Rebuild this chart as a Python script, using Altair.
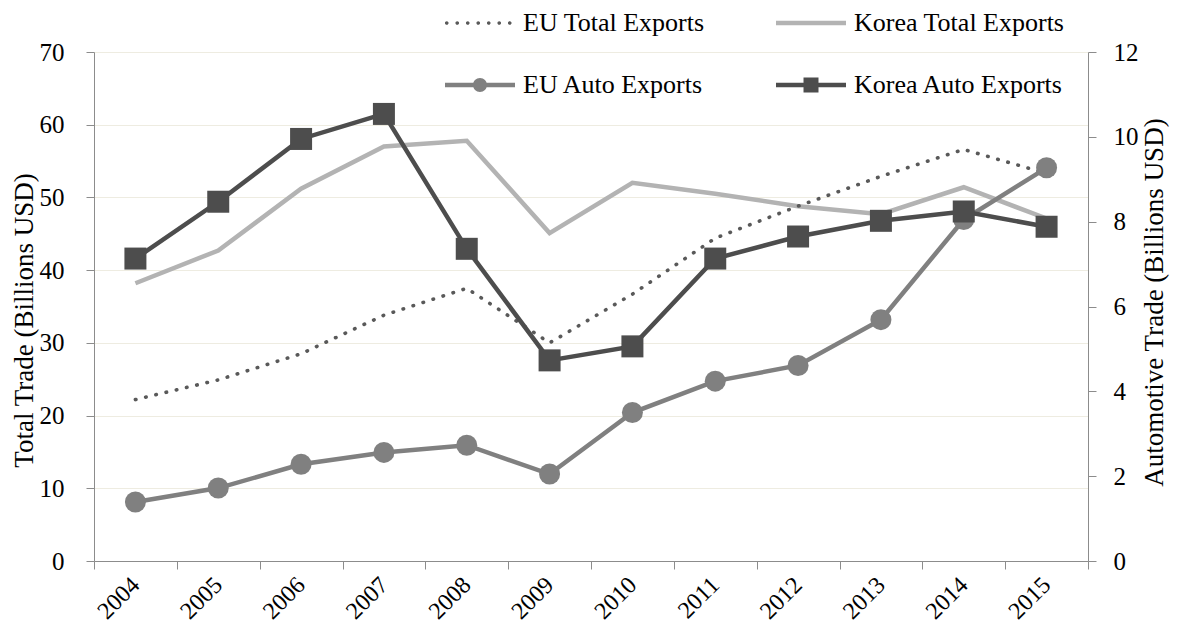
import altair as alt
import pandas as pd

# ---------------- data ----------------
years = [str(y) for y in range(2004, 2016)]
eu_total = [22.2, 24.9, 28.5, 33.8, 37.5, 30.0, 36.7, 44.4, 48.8, 52.9, 56.6, 53.3]
korea_total = [38.2, 42.7, 51.2, 57.0, 57.8, 45.1, 52.0, 50.5, 48.8, 47.7, 51.4, 47.1]
eu_auto = [1.39, 1.72, 2.28, 2.56, 2.73, 2.05, 3.50, 4.24, 4.61, 5.69, 8.05, 9.27]
korea_auto = [7.13, 8.47, 9.95, 10.54, 7.36, 4.73, 5.06, 7.13, 7.65, 8.02, 8.24, 7.88]

# legend order (the legend fills column by column)
series_names = ["EU Total Exports", "EU Auto Exports", "Korea Total Exports", "Korea Auto Exports"]
series_colors = ["#595959", "#808080", "#b3b3b3", "#4d4d4d"]
left_ticks = [0, 10, 20, 30, 40, 50, 60, 70]
right_ticks = [0, 2, 4, 6, 8, 10, 12]

EU_TOTAL, EU_AUTO, KR_TOTAL, KR_AUTO = series_names
C_EU_TOTAL, C_EU_AUTO, C_KR_TOTAL, C_KR_AUTO = series_colors

FONT = "Liberation Serif"
AXIS_GRAY = "#8c8c8c"
TICK_FS = 25
TITLE_FS = 27


def frame(name, vals):
    return pd.DataFrame({"year": years, "series": name, "value": vals})


totals = pd.concat([frame(EU_TOTAL, eu_total), frame(KR_TOTAL, korea_total)])
autos = pd.concat([frame(EU_AUTO, eu_auto), frame(KR_AUTO, korea_auto)])

# ---------------- legend symbol shapes (unit space [-1, 1]) ----------------
def circ(cx, r):
    return f"M{cx - r:.3f},0A{r},{r},0,1,1,{cx + r:.3f},0A{r},{r},0,1,1,{cx - r:.3f},0Z"


def rect(x0, x1, t):
    return f"M{x0},{-t}L{x1},{-t}L{x1},{t}L{x0},{t}Z"


t = 0.063
dotted_path = "".join(circ(-0.95 + 0.3 * k, 0.052) for k in range(7))
solid_path = rect(-1, 1, t)
rc = 0.2
circle_path = rect(-1, -rc + 0.02, t) + rect(rc - 0.02, 1, t) + circ(0, rc)
sq = 0.214
square_path = rect(-1, -sq, t) + rect(sq, 1, t) + f"M{-sq},{-sq}L{sq},{-sq}L{sq},{sq}L{-sq},{sq}Z"
legend_shapes = [dotted_path, circle_path, solid_path, square_path]

# ---------------- encodings ----------------
x_enc = alt.X(
    "year:O",
    scale=alt.Scale(type="band", paddingInner=0, paddingOuter=0),
    axis=alt.Axis(
        title=None,
        labelAngle=-45,
        labelAlign="right",
        labelBaseline="middle",
        labelPadding=12,
        tickBand="extent",
        tickSize=8,
        tickColor=AXIS_GRAY,
        domainColor=AXIS_GRAY,
        labelFont=FONT,
        labelFontSize=24,
        labelColor="black",
        grid=False,
    ),
)

y_left = alt.Y(
    "value:Q",
    scale=alt.Scale(domain=[0, 70], nice=False),
    axis=alt.Axis(
        orient="left",
        values=left_ticks,
        title="Total Trade (Billions USD)",
        titleAngle=270,
        titleX=-70,
        titleY=268,
        titleAlign="center",
        titleBaseline="middle",
        titleFont=FONT,
        titleFontSize=TITLE_FS,
        titleFontWeight="normal",
        titleColor="black",
        labelFont=FONT,
        labelFontSize=TICK_FS,
        labelColor="black",
        labelPadding=22,
        tickSize=8,
        tickColor=AXIS_GRAY,
        domainColor=AXIS_GRAY,
        grid=True,
        gridColor="#eeece1",
        gridWidth=1.2,
    ),
)

y_right = alt.Y(
    "value:Q",
    scale=alt.Scale(domain=[0, 12], nice=False),
    axis=alt.Axis(
        orient="right",
        values=right_ticks,
        title="Automotive Trade (Billions USD)",
        titleAngle=270,
        titleX=66,
        titleY=250,
        titleAlign="center",
        titleBaseline="middle",
        titleFont=FONT,
        titleFontSize=TITLE_FS,
        titleFontWeight="normal",
        titleColor="black",
        labelFont=FONT,
        labelFontSize=TICK_FS,
        labelColor="black",
        labelPadding=17,
        tickSize=8,
        tickColor=AXIS_GRAY,
        domainColor=AXIS_GRAY,
        grid=False,
    ),
)

# ---------------- left-axis layers ----------------
eu_total_line = (
    alt.Chart(totals)
    .transform_filter(alt.datum.series == EU_TOTAL)
    .mark_line(color=C_EU_TOTAL, strokeWidth=3.6, strokeDash=[0.5, 10], strokeCap="round")
    .encode(x=x_enc, y=y_left)
)
korea_total_line = (
    alt.Chart(totals)
    .transform_filter(alt.datum.series == KR_TOTAL)
    .mark_line(color=C_KR_TOTAL, strokeWidth=4.5)
    .encode(x=x_enc, y=y_left)
)
left = alt.layer(korea_total_line, eu_total_line)

# ---------------- right-axis layers ----------------
eu_auto_base = alt.Chart(autos).transform_filter(alt.datum.series == EU_AUTO)
korea_auto_base = alt.Chart(autos).transform_filter(alt.datum.series == KR_AUTO)

eu_auto_line = eu_auto_base.mark_line(color=C_EU_AUTO, strokeWidth=4.5).encode(x=x_enc, y=y_right)
eu_auto_pts = eu_auto_base.mark_point(
    shape="circle", filled=True, size=441, opacity=1, color=C_EU_AUTO
).encode(x=x_enc, y=y_right)
korea_auto_line = korea_auto_base.mark_line(color=C_KR_AUTO, strokeWidth=4.5).encode(x=x_enc, y=y_right)
korea_auto_pts = korea_auto_base.mark_point(
    shape="square", filled=True, size=484, opacity=1, color=C_KR_AUTO
).encode(x=x_enc, y=y_right)

legend_props = dict(
    title=None,
    orient="none",
    legendX=351,
    legendY=-64,
    columns=2,
    columnPadding=71,
    rowPadding=14,
    symbolSize=4900,
    symbolStrokeWidth=0,
    labelFont=FONT,
    labelFontSize=26,
    labelColor="black",
    labelOffset=8,
    labelLimit=500,
    padding=0,
)

legend_layer = (
    alt.Chart(pd.DataFrame({"series": series_names}))
    .transform_filter("false")
    .mark_point(filled=True, opacity=1)
    .encode(
        color=alt.Color(
            "series:N",
            scale=alt.Scale(domain=series_names, range=series_colors),
            legend=alt.Legend(**legend_props),
        ),
        shape=alt.Shape(
            "series:N",
            scale=alt.Scale(domain=series_names, range=legend_shapes),
            legend=alt.Legend(**legend_props),
        ),
    )
)

right = alt.layer(eu_auto_line, eu_auto_pts, korea_auto_line, korea_auto_pts, legend_layer)

chart = (
    alt.layer(left, right)
    .resolve_scale(y="independent")
    .properties(
        width=994,
        height=509,
        padding={"left": 86, "top": 44, "right": 82, "bottom": 64},
        autosize=alt.AutoSizeParams(type="none"),
        background="white",
    )
    .configure_view(stroke=None)
)

chart.save("out.html", embed_options={"renderer": "svg", "actions": False})
